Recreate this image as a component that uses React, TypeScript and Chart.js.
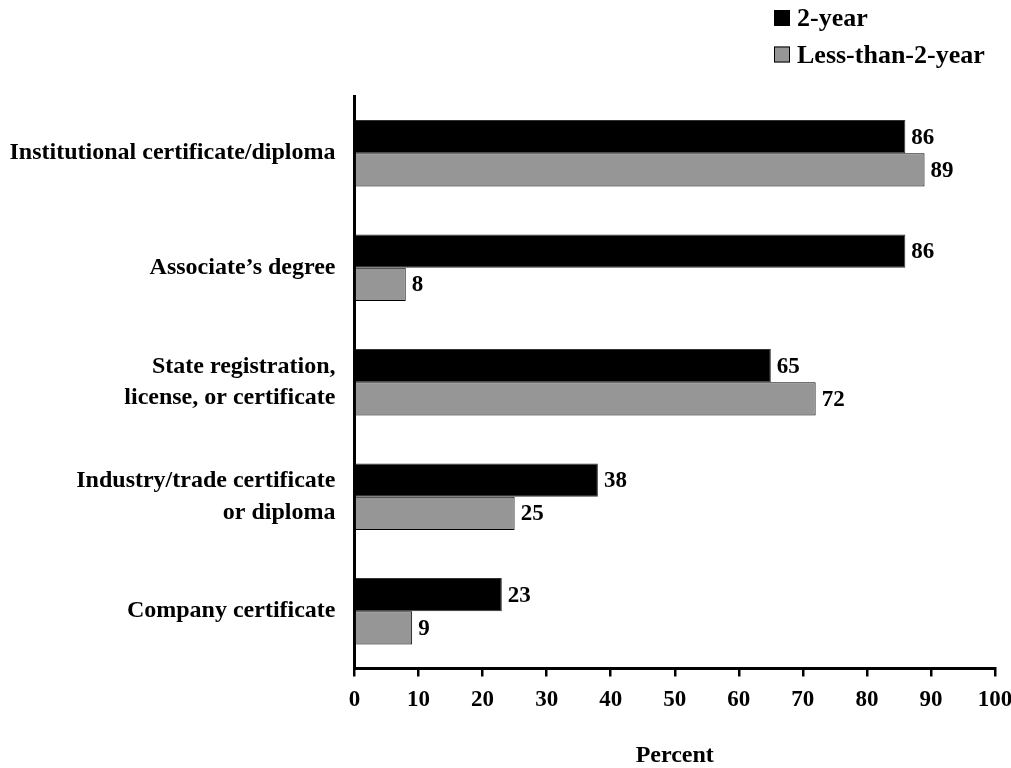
import React, { useEffect, useRef } from 'react';
import { Chart, registerables } from 'chart.js';

Chart.register(...registerables);

const categories: (string | string[])[] = [
  'Institutional certificate/diploma',
  'Associate\u2019s degree',
  ['State registration,', 'license, or certificate'],
  ['Industry/trade certificate', 'or diploma'],
  'Company certificate',
];
const seriesNames = ['2-year', 'Less-than-2-year'];
const twoYear = [86, 86, 65, 38, 23];
const lessThanTwoYear = [89, 8, 72, 25, 9];
const xMin = 0;
const xMax = 100;
const xStep = 10;
const axisTitle = 'Percent';

const FONT = '"Liberation Serif", "Times New Roman", serif';
const COLORS = ['#000000', '#969696'];

export default function App() {
  const ref = useRef<HTMLCanvasElement>(null);

  useEffect(() => {
    if (!ref.current) return;

    const valueLabels = {
      id: 'valueLabels',
      afterDatasetsDraw(chart: any) {
        const ctx = chart.ctx;
        ctx.save();
        ctx.font = `bold 23px ${FONT}`;
        ctx.fillStyle = '#000';
        ctx.textAlign = 'left';
        ctx.textBaseline = 'middle';
        chart.data.datasets.forEach((ds: any, i: number) => {
          const meta = chart.getDatasetMeta(i);
          meta.data.forEach((bar: any, j: number) => {
            ctx.fillText(String(ds.data[j]), bar.x + 6, bar.y + 1);
          });
        });
        ctx.restore();
      },
    };

    const boxLegend = {
      id: 'boxLegend',
      afterDraw(chart: any) {
        const ctx = chart.ctx;
        ctx.save();
        ctx.font = `bold 26px ${FONT}`;
        ctx.textAlign = 'left';
        ctx.textBaseline = 'alphabetic';
        chart.data.datasets.forEach((ds: any, i: number) => {
          const top = 10 + i * 36.5;
          ctx.fillStyle = ds.backgroundColor;
          ctx.fillRect(774, top, 16, 16);
          ctx.strokeStyle = '#000';
          ctx.lineWidth = 1;
          ctx.strokeRect(774.5, top + 0.5, 15, 15);
          ctx.fillStyle = '#000';
          ctx.fillText(ds.label, 797, top + 16);
        });
        ctx.restore();
      },
    };

    const chart = new Chart(ref.current, {
      type: 'bar',
      data: {
        labels: categories,
        datasets: [
          {
            label: seriesNames[0],
            data: twoYear,
            backgroundColor: COLORS[0],
            borderColor: '#333',
            borderWidth: 1,
            categoryPercentage: 0.58,
            barPercentage: 1,
          },
          {
            label: seriesNames[1],
            data: lessThanTwoYear,
            backgroundColor: COLORS[1],
            borderColor: '#000',
            borderWidth: 1,
            categoryPercentage: 0.58,
            barPercentage: 1,
          },
        ],
      },
      options: {
        indexAxis: 'y',
        responsive: true,
        maintainAspectRatio: false,
        animation: false,
        layout: { padding: { top: 96, right: 16, bottom: 0, left: 0 } },
        plugins: {
          legend: { display: false },
          tooltip: { enabled: false },
          title: { display: false },
        },
        scales: {
          x: {
            type: 'linear',
            min: xMin,
            max: xMax,
            ticks: {
              stepSize: xStep,
              color: '#000',
              font: { family: FONT, size: 23, weight: 'bold' },
              padding: 10,
              maxRotation: 0,
            },
            grid: {
              display: true,
              drawOnChartArea: false,
              drawTicks: true,
              tickLength: 8,
              color: '#000',
              lineWidth: 2.5,
            },
            border: { display: true, color: '#000', width: 3 },
            title: {
              display: true,
              text: axisTitle,
              color: '#000',
              font: { family: FONT, size: 24, weight: 'bold' },
              padding: { top: 0, bottom: -2 },
            },
            afterFit(scale: any) {
              scale.height = 99.5;
              scale.paddingRight = 0;
              scale.paddingLeft = 0;
            },
          },
          y: {
            type: 'category',
            z: 1,
            ticks: {
              color: '#000',
              font: { family: FONT, size: 24, weight: 'bold', lineHeight: 1.3 },
              padding: 19,
              crossAlign: 'near',
            },
            grid: { display: false, drawTicks: false },
            border: { display: true, color: '#000', width: 3 },
            afterFit(scale: any) {
              scale.width = 354.5;
              scale.paddingTop = 0;
              scale.paddingBottom = 0;
            },
          },
        },
      },
      plugins: [valueLabels, boxLegend],
    } as any);

    return () => chart.destroy();
  }, []);

  return (
    <div style={{ position: 'absolute', left: 0, top: 0, width: 1011, height: 768, background: '#fff' }}>
      <canvas ref={ref} />
    </div>
  );
}
